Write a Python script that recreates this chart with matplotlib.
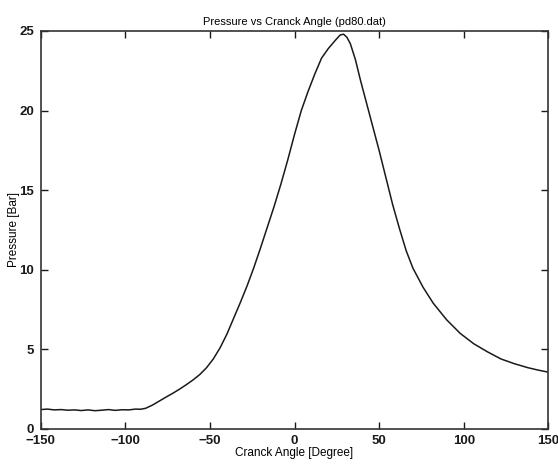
import matplotlib.pyplot as plt
import numpy as np

plt.rcParams['font.family'] = ['Liberation Sans', 'DejaVu Sans']

# Kurbelwinkel [Grad] und Druck [Bar]
angle = [-150, -146, -142, -138, -134, -130, -126, -122, -118, -114, -110, -106,
         -102, -98, -94, -91, -88, -84, -80, -76, -72, -68, -64, -60, -56, -52,
         -48, -44, -40, -36, -32, -28, -24, -20, -16, -12, -8, -4, 0, 4, 8, 12,
         16, 20, 24, 27, 29, 31, 33, 36, 39, 42, 46, 50, 54, 58, 62, 66, 70, 76,
         82, 90, 98, 106, 114, 122, 130, 138, 144, 150]
pressure = [1.22, 1.25, 1.2, 1.22, 1.18, 1.2, 1.16, 1.2, 1.15, 1.18, 1.22, 1.17,
            1.21, 1.2, 1.25, 1.24, 1.3, 1.5, 1.75, 2.0, 2.24, 2.5, 2.78, 3.08, 3.42, 3.85,
            4.4, 5.1, 5.95, 6.95, 7.95, 9.0, 10.15, 11.4, 12.7, 14.0, 15.4, 16.9, 18.5, 20.0, 21.2, 22.3,
            23.3, 23.9, 24.4, 24.75, 24.8, 24.6, 24.2, 23.2, 21.9, 20.7, 19.1, 17.5, 15.8, 14.1, 12.6, 11.2, 10.1, 8.9,
            7.9, 6.85, 6.0, 5.35, 4.85, 4.4, 4.1, 3.85, 3.7, 3.57]

fig = plt.figure(figsize=(5.58, 4.66), dpi=100)
ax = fig.add_axes([0.073, 0.0794, 0.9096, 0.8541])

ax.plot(angle, pressure, '-', color='#1a1a1a', linewidth=1.1)

ax.set_xlim(-150, 150)
ax.set_ylim(0, 25)
ax.set_xticks(np.arange(-150, 151, 50))
ax.set_yticks(np.arange(0, 26, 5))
ax.tick_params(direction='in', top=True, right=True, length=5, width=1,
               labelsize=9.5, colors='#1a1a1a')
ax.tick_params(axis='x', pad=4.5)
ax.tick_params(axis='y', pad=5)
for lab in ax.get_xticklabels() + ax.get_yticklabels():
    lab.set_fontweight('bold')
for s in ax.spines.values():
    s.set_color('#333333')
    s.set_linewidth(1.2)

ax.set_title('Pressure vs Cranck Angle (pd80.dat)', fontsize=8, pad=4)
ax.set_xlabel('Cranck Angle [Degree]', fontsize=8.5, labelpad=0)
ax.set_ylabel('Pressure [Bar]', fontsize=8.5, labelpad=-1)

fig.savefig('out.png', dpi=100)
